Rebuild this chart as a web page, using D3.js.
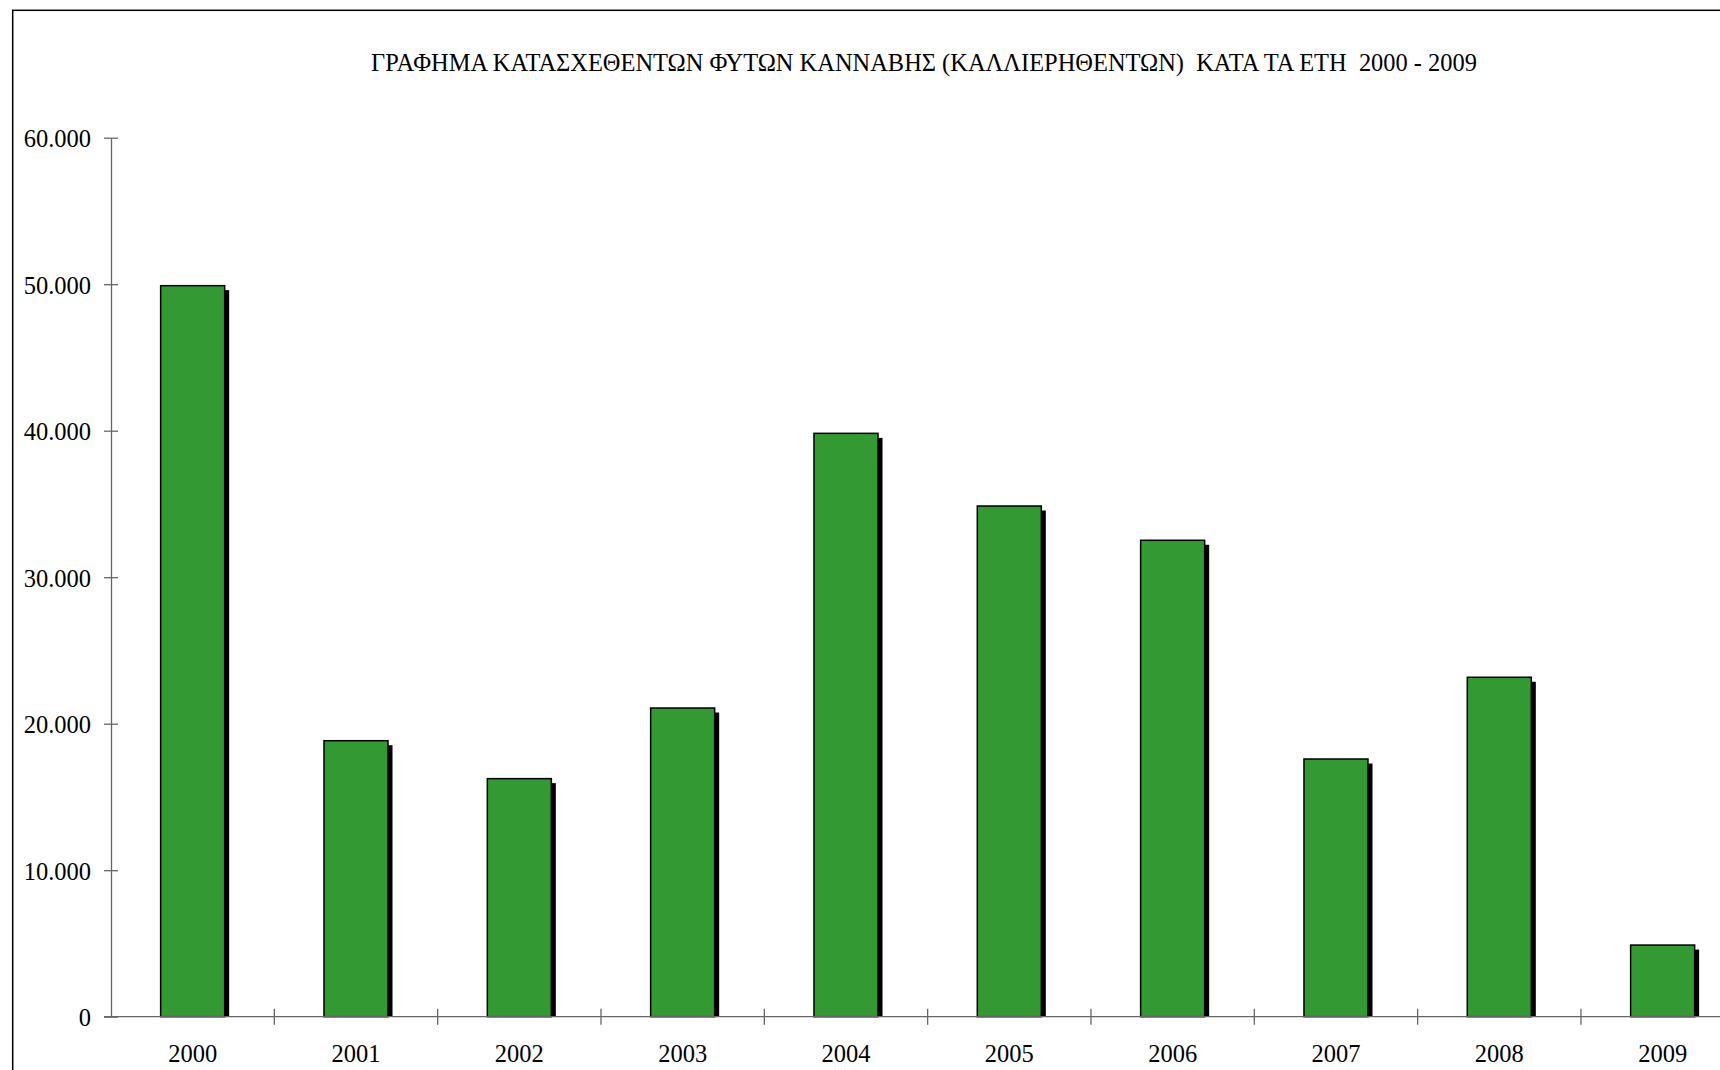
<!DOCTYPE html>
<html>
<head>
<meta charset="utf-8">
<script src="https://cdn.jsdelivr.net/npm/d3@7"></script>
<style>
  html, body { margin: 0; padding: 0; background: #fff; }
  svg { display: block; }
  text { font-family: "Liberation Serif", "Times New Roman", serif; fill: #000; }
</style>
</head>
<body>
<svg id="chart" width="1720" height="1070"></svg>
<script>
const years = ["2000","2001","2002","2003","2004","2005","2006","2007","2008","2009"];
const plants = [49900, 18840, 16250, 21070, 39820, 34860, 32520, 17590, 23170, 4890];
const yTicks = [0, 10000, 20000, 30000, 40000, 50000, 60000];
const titleText = "ΓΡΑΦΗΜΑ ΚΑΤΑΣΧΕΘΕΝΤΩΝ ΦΥΤΩΝ ΚΑΝΝΑΒΗΣ (ΚΑΛΛΙΕΡΗΘΕΝΤΩΝ)  ΚΑΤΑ ΤΑ ΕΤΗ  2000 - 2009";

const svg = d3.select("#chart");
const axisColor = "#666";
const loc = d3.formatLocale({decimal: ",", thousands: ".", grouping: [3], currency: ["", ""]});
const fmt = loc.format(",");

// Outer frame (extends beyond the visible area)
svg.append("rect")
  .attr("x", 12.7).attr("y", 10.3)
  .attr("width", 2000).attr("height", 2000)
  .attr("fill", "none").attr("stroke", "#000").attr("stroke-width", 1.5);

// Title
svg.append("text")
  .attr("x", 371).attr("y", 71)
  .attr("font-size", 25)
  .attr("textLength", 1106)
  .attr("lengthAdjust", "spacingAndGlyphs")
  .style("white-space", "pre")
  .attr("xml:space", "preserve")
  .text(titleText);

const y = d3.scaleLinear().domain([0, 60000]).range([1016.7, 137.7]);
const pad = 0.608;
const x = d3.scaleBand().domain(years).range([111, 1744.3]).paddingInner(pad).paddingOuter(pad / 2);

const x0 = x.range()[0];
const y0 = y(0);

// Bars: shadow then bar
const off = 4.5;
const g = svg.append("g");
g.selectAll("rect.shadow").data(years).join("rect")
  .attr("class", "shadow")
  .attr("x", d => x(d) + off)
  .attr("y", (d, i) => y(plants[i]) + off)
  .attr("width", x.bandwidth())
  .attr("height", (d, i) => Math.max(0, y0 - y(plants[i]) - off))
  .attr("fill", "#000");
g.selectAll("rect.bar").data(years).join("rect")
  .attr("class", "bar")
  .attr("x", d => x(d))
  .attr("y", (d, i) => y(plants[i]))
  .attr("width", x.bandwidth())
  .attr("height", (d, i) => y0 - y(plants[i]))
  .attr("fill", "#339933")
  .attr("stroke", "#000")
  .attr("stroke-width", 1.5);

// Y axis
const yAxis = d3.axisLeft(y).tickValues(yTicks).tickFormat(fmt).tickSizeInner(7).tickSizeOuter(0).tickPadding(13);
const yg = svg.append("g").attr("transform", `translate(${x0},0)`).call(yAxis);
yg.select(".domain").attr("stroke", axisColor).attr("stroke-width", 1.3);
yg.selectAll(".tick line").attr("stroke", axisColor).attr("stroke-width", 1.3).attr("x2", 7).attr("x1", -7);
yg.selectAll(".tick text").attr("font-size", 24.5).attr("font-family", "Liberation Serif, serif").attr("x", -20).attr("dy", "0.36em");

// X axis
svg.append("line")
  .attr("x1", x0 - 7).attr("x2", 1760)
  .attr("y1", y0).attr("y2", y0)
  .attr("stroke", axisColor).attr("stroke-width", 1.3);
const bounds = d3.range(years.length + 1).map(i => x0 + i * x.step());
svg.append("g").selectAll("line").data(bounds.slice(1)).join("line")
  .attr("x1", d => d).attr("x2", d => d)
  .attr("y1", y0 - 8).attr("y2", y0 + 8)
  .attr("stroke", axisColor).attr("stroke-width", 1.3);
svg.append("g").selectAll("text").data(years).join("text")
  .attr("x", d => x(d) + x.bandwidth() / 2)
  .attr("y", 1062)
  .attr("text-anchor", "middle")
  .attr("font-size", 24.5)
  .text(d => d);
</script>
</body>
</html>
